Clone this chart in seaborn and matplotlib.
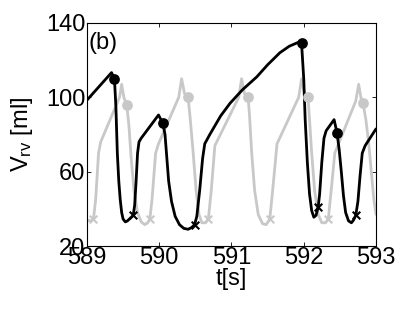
import numpy as np
import pandas as pd
import matplotlib
matplotlib.use("Agg")
import matplotlib.pyplot as plt
import seaborn as sns

# black curve
t_black = [589.00, 589.34, 589.38, 589.40, 589.42, 589.44, 589.46, 589.48, 589.50, 589.53,
           589.56, 589.60, 589.64, 589.66, 589.68, 589.70, 589.72, 589.75, 589.99, 590.05,
           590.08, 590.10, 590.13, 590.17, 590.22, 590.28, 590.34, 590.40, 590.45, 590.49,
           590.52, 590.56, 590.60, 590.63, 590.70, 590.85, 590.98, 591.15, 591.35, 591.50,
           591.67, 591.80, 591.95, 591.97, 592.00, 592.02, 592.05, 592.08, 592.11, 592.14,
           592.17, 592.20, 592.22, 592.25, 592.28, 592.31, 592.42, 592.46, 592.49, 592.52,
           592.55, 592.58, 592.62, 592.66, 592.69, 592.72, 592.75, 592.78, 592.81, 592.85,
           593.00]
v_black = [98.5, 113.3, 110, 95, 70, 55, 45, 38, 34.5, 33,
           33.5, 35, 36.5, 42, 55, 70, 76, 78, 90.5, 86,
           80, 70, 55, 44, 36, 31.5, 29.5, 29, 30, 31.5,
           36, 50, 67, 75, 80, 90, 96.8, 104, 111, 117.5,
           124, 127.5, 130, 129, 110, 88, 65, 48, 39, 35.5,
           36.5, 41, 48, 65, 78, 82, 88, 81, 72, 60,
           47, 38, 33.5, 32.5, 34, 36.5, 44, 58, 70, 74,
           83]

# gray curve
t_gray = [589.00, 589.05, 589.09, 589.12, 589.16, 589.19, 589.45, 589.48, 589.51, 589.55,
          589.58, 589.61, 589.65, 589.70, 589.75, 589.80, 589.84, 589.87, 589.90, 589.95,
          589.99, 590.27, 590.31, 590.35, 590.40, 590.43, 590.47, 590.51, 590.55, 590.59,
          590.64, 590.68, 590.72, 590.77, 591.10, 591.14, 591.18, 591.23, 591.25, 591.28,
          591.32, 591.37, 591.43, 591.48, 591.53, 591.57, 591.63, 591.93, 591.97, 592.01,
          592.06, 592.08, 592.11, 592.15, 592.20, 592.25, 592.30, 592.34, 592.38, 592.43,
          592.72, 592.76, 592.80, 592.82, 592.86, 592.90, 592.94, 592.97, 593.00]
v_gray = [34, 33.5, 34.5, 45, 70, 76, 100, 107, 100, 96,
          85, 68, 50, 38, 33, 31.5, 32.5, 34.5, 45, 70,
          75, 100, 110, 102, 100, 88, 70, 50, 37, 32.5,
          32.5, 34.5, 50, 74, 100, 110, 102, 100, 90, 70,
          50, 37, 32, 31.5, 34.5, 50, 75, 100, 110, 102,
          100, 88, 70, 50, 37, 32.5, 32.5, 34.5, 50, 70,
          98, 107, 98, 97, 88, 75, 58, 45, 37]

# markers
black_dot_t = [589.38, 590.05, 591.97, 592.46]
black_dot_v = [110, 86, 129, 81]
black_x_t = [589.64, 590.49, 592.20, 592.72]
black_x_v = [36.5, 31.5, 41, 36.5]
gray_dot_t = [589.55, 590.40, 591.23, 592.06, 592.82]
gray_dot_v = [96, 100, 100, 100, 97]
gray_x_t = [589.09, 589.87, 590.68, 591.53, 592.34]
gray_x_v = [34.5, 34.5, 34.5, 34.5, 34.5]

xticks = [589, 590, 591, 592, 593]
yticks = [20, 60, 100, 140]

sns.set_style("ticks")
plt.rcParams["font.family"] = ["Liberation Sans", "DejaVu Sans"]
plt.rcParams["mathtext.fontset"] = "custom"
plt.rcParams["mathtext.rm"] = "Liberation Sans"
plt.rcParams["mathtext.it"] = "Liberation Sans"
plt.rcParams["text.color"] = "black"
plt.rcParams["axes.labelcolor"] = "black"
plt.rcParams["xtick.color"] = "black"
plt.rcParams["ytick.color"] = "black"

GRAY = "#c8c8c8"
FS = 17

fig = plt.figure(figsize=(4.15, 3.13), dpi=100)
ax = fig.add_axes([0.2096, 0.214, 0.6964, 0.7126])

dg = pd.DataFrame({"t": t_gray, "v": v_gray})
db = pd.DataFrame({"t": t_black, "v": v_black})
sns.lineplot(data=dg, x="t", y="v", ax=ax, color=GRAY, lw=2.0, sort=False, estimator=None)
sns.scatterplot(x=gray_dot_t, y=gray_dot_v, ax=ax, color=GRAY, s=60, edgecolor=GRAY, linewidth=0, zorder=3)
sns.scatterplot(x=gray_x_t, y=gray_x_v, ax=ax, color=GRAY, marker="x", s=30, linewidth=1.5, zorder=3)
sns.lineplot(data=db, x="t", y="v", ax=ax, color="black", lw=2.0, sort=False, estimator=None)
sns.scatterplot(x=black_dot_t, y=black_dot_v, ax=ax, color="black", s=60, edgecolor="black", linewidth=0, zorder=4)
sns.scatterplot(x=black_x_t, y=black_x_v, ax=ax, color="black", marker="x", s=30, linewidth=1.5, zorder=4)

ax.set_xlim(589, 593)
ax.set_ylim(20, 140)
ax.set_xticks(xticks)
ax.set_yticks(yticks)
ax.set_xticklabels([str(x) for x in xticks])
ax.set_yticklabels([str(y) for y in yticks])
ax.tick_params(direction="in", top=True, right=True, length=3, width=0.6,
               labelsize=FS, pad=1, colors="black")
for s in ax.spines.values():
    s.set_color("black")
    s.set_linewidth(0.8)
ax.set_xlabel("t[s]", fontsize=FS, labelpad=-1, color="black")
ax.set_ylabel(r"V$_{\rm rv}$ [ml]", fontsize=FS, labelpad=8, color="black")
ax.text(0.006, 0.96, "(b)", transform=ax.transAxes, fontsize=FS, va="top", ha="left", color="black")

fig.savefig("out.png", dpi=100)
